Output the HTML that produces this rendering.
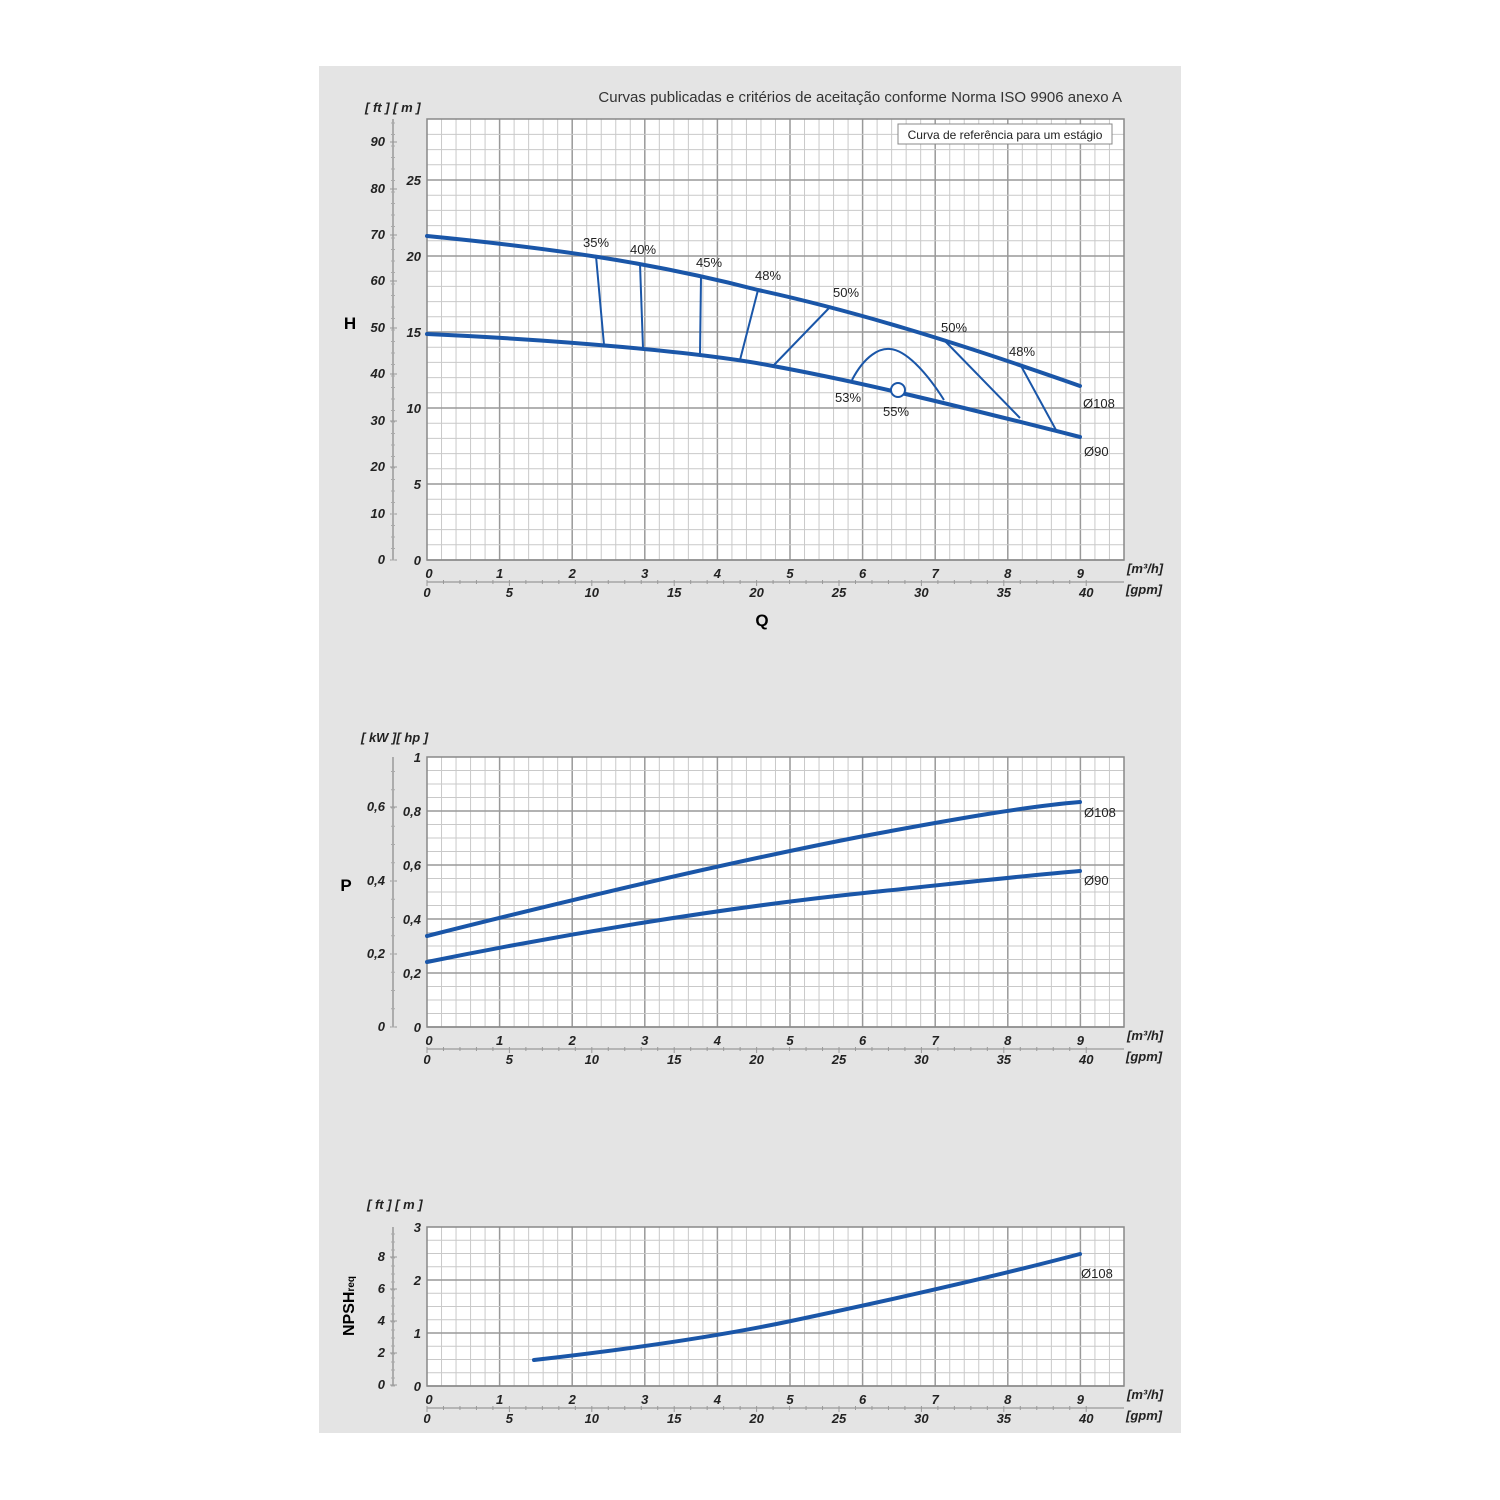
<!DOCTYPE html>
<html><head><meta charset="utf-8"><style>
body{margin:0;background:#fff;width:1500px;height:1500px;overflow:hidden}
svg{display:block}
text{font-family:"Liberation Sans",sans-serif}
.b{font-weight:bold;font-style:italic;font-size:13px;fill:#222}
.c{stroke:#1a56a8;stroke-width:4;fill:none;stroke-linecap:round;stroke-linejoin:round}
.e{stroke:#1a56a8;stroke-width:2;fill:none}
.l{font-size:13px;fill:#222}
</style></head><body>
<svg id="s" width="1500" height="1500" xmlns="http://www.w3.org/2000/svg">
<rect x="319" y="66" width="862" height="1367" fill="#e4e4e4"/>
<g id="g"></g>
<text x="1122" y="102" text-anchor="end" font-size="15" fill="#333">Curvas publicadas e critérios de aceitação conforme Norma ISO 9906 anexo A</text>
<rect x="898" y="124" width="214" height="20" fill="#fff" stroke="#888"/>
<text x="1005" y="139" text-anchor="middle" font-size="12" fill="#222">Curva de referência para um estágio</text>
<text x="350" y="329" text-anchor="middle" font-size="17" font-weight="bold">H</text>
<text x="762" y="626" text-anchor="middle" font-size="17" font-weight="bold">Q</text>
<text x="346" y="891" text-anchor="middle" font-size="17" font-weight="bold">P</text>
<text transform="translate(354,1306) rotate(-90)" text-anchor="middle" font-size="16" font-weight="bold">NPSH<tspan font-size="10">req</tspan></text>
<text x="365" y="112" class="b">[ ft ]  [ m ]</text>
<text x="361" y="742" class="b">[ kW ][ hp ]</text>
<text x="367" y="1209" class="b">[ ft ]  [ m ]</text>
<path class="c" d="M427,236 C550,248 650,262 758,290 C850,310 950,340 1080,386"/>
<path class="c" d="M427,334 C560,340 700,352 773,366 C860,382 950,404 1080,437"/>
<path class="e" d="M596,256 L604,345 M640,264 L643,348 M701,277 L700,354 M758,290 L740,360 M831,306 L773,366 M944,340 L1020,418 M1020,364 L1056,430"/>
<path class="e" d="M852,380 C865,355 880,348 890,349 C905,350 925,370 944,400"/>
<circle cx="898" cy="390" r="7" fill="#fff" stroke="#1a56a8" stroke-width="2"/>
<g class="l">
<text x="583" y="247">35%</text><text x="630" y="254">40%</text><text x="696" y="267">45%</text><text x="755" y="280">48%</text><text x="833" y="297">50%</text><text x="941" y="332">50%</text><text x="1009" y="356">48%</text><text x="835" y="402">53%</text><text x="883" y="416">55%</text><text x="1083" y="408">Ø108</text><text x="1084" y="456">Ø90</text>
<text x="1084" y="817">Ø108</text><text x="1084" y="885">Ø90</text><text x="1081" y="1278">Ø108</text>
</g>
<path class="c" d="M427,936 C550,905 720,864 864,836 C960,818 1030,806 1080,802"/>
<path class="c" d="M427,962 C560,935 720,908 864,893 C960,883 1030,875 1080,871"/>
<path class="c" d="M534,1360 C640,1348 720,1336 791,1321 C900,1298 1000,1275 1080,1254"/>
</svg>
<script>
var g=document.getElementById('g'),h='';
function L(x1,y1,x2,y2,c,w){h+='<line x1="'+x1+'" y1="'+y1+'" x2="'+x2+'" y2="'+y2+'" stroke="'+c+'" stroke-width="'+w+'"/>';}
function T(x,y,t,a,cls,fs){h+='<text x="'+x+'" y="'+y+'" text-anchor="'+a+'" class="b"'+(fs?' font-size="'+fs+'"':'')+'>'+t+'</text>';}
var X0=427,XU=72.6,XR=1124;
function chart(top,bot,yticks,minorPer,yl,ft){
 h+='<rect x="'+X0+'" y="'+top+'" width="'+(XR-X0)+'" height="'+(bot-top)+'" fill="#fff"/>';
 for(var i=1;i<48;i++){var x=X0+i*XU/5;if(x>=XR)break;L(x,top,x,bot,i%5?'#c9c9c9':'#999',i%5?1:1.5);}
 for(var k=0;k<yticks.length;k++){var y=yticks[k];L(X0,y,XR,y,'#999',1.5);}
 var step=(yticks[0]-yticks[1]);
 for(var y0=yticks[0];y0>top+0.5;y0-=step/minorPer){ if(Math.abs((yticks[0]-y0)%step)>1&&Math.abs((yticks[0]-y0)%step-step)>1)L(X0,y0,XR,y0,'#c9c9c9',1);}
 h+='<rect x="'+X0+'" y="'+top+'" width="'+(XR-X0)+'" height="'+(bot-top)+'" fill="none" stroke="#888" stroke-width="1.5"/>';
 for(var k=0;k<yl.length;k++)T(421,yl[k][0]+5,yl[k][1],'end');
 L(393,top,393,bot,'#999',1.5);
 for(var k=0;k<ft.length;k++){T(385,ft[k][0]+4,ft[k][1],'end',0,12);L(390,ft[k][0],397,ft[k][0],'#999',1);}
 for(var y=bot;y>top;y-=(ft.length>1?(ft[0][0]-ft[1][0])/4:10))L(391,y,395,y,'#aaa',1);
 for(var i=0;i<=9;i++)T(X0+i*XU+(i?0:2),bot+18,i,'middle');
 T(1127,bot+13,'[m³/h]','start',0,12);
 var gy=bot+22; L(X0,gy,XR,gy,'#999',1.2);
 var gp=XU*9.08/40;
 for(var i=0;i<=40;i++){L(X0+i*gp,gy-2,X0+i*gp,gy+(i%5?2:4),'#999',1);}
 for(var i=0;i<=40;i+=5)T(X0+i*gp,gy+15,i,'middle',0,12);
 T(1126,gy+12,'[gpm]','start',0,12);
}
chart(119,560,[560,484,408,332,256,180],5,[[560,'0'],[484,'5'],[408,'10'],[332,'15'],[256,'20'],[180,'25']],
 [[560,'0'],[514,'10'],[467,'20'],[421,'30'],[374,'40'],[328,'50'],[281,'60'],[235,'70'],[189,'80'],[142,'90']]);
chart(757,1027,[1027,973,919,865,811],4,[[1027,'0'],[973,'0,2'],[919,'0,4'],[865,'0,6'],[811,'0,8'],[757,'1']],
 [[1027,'0'],[954,'0,2'],[881,'0,4'],[807,'0,6']]);
chart(1227,1386,[1386,1333,1280],4,[[1386,'0'],[1333,'1'],[1280,'2'],[1227,'3']],
 [[1385,'0'],[1353,'2'],[1321,'4'],[1289,'6'],[1257,'8']]);
g.innerHTML=h;
</script>
</body></html>
